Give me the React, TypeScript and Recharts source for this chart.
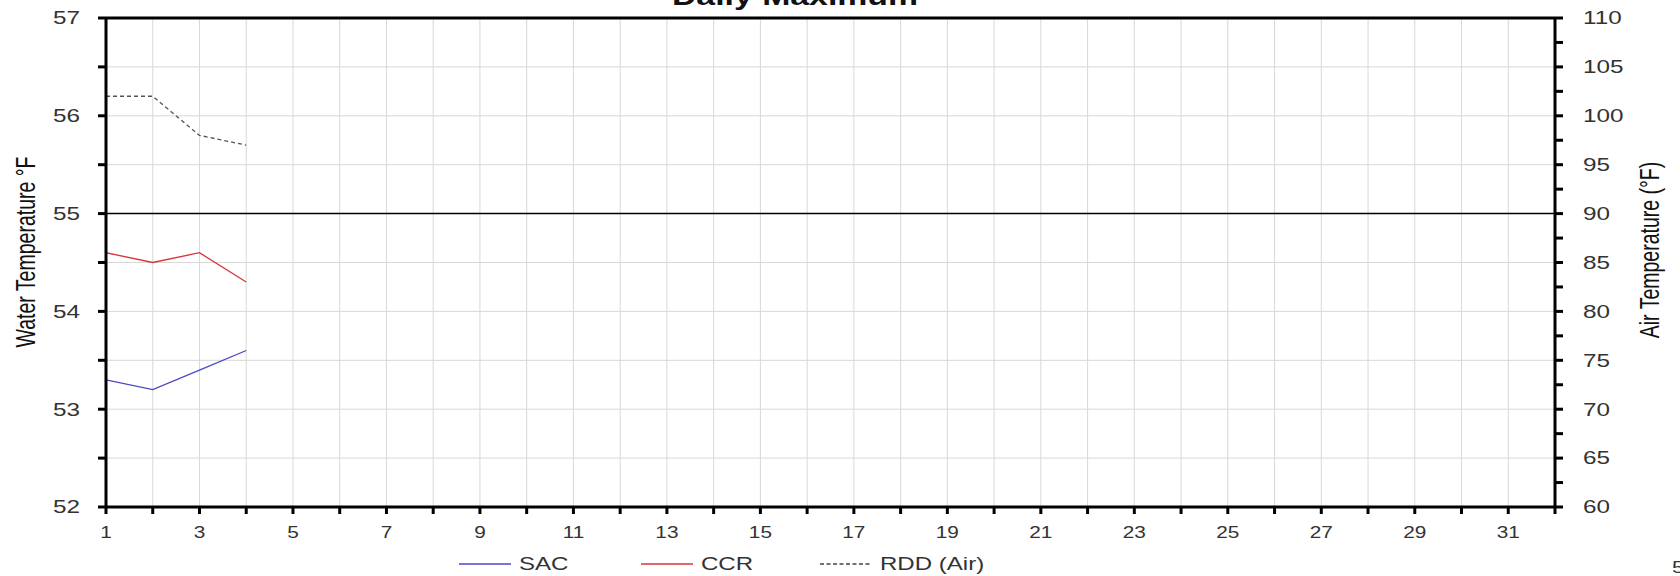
import React from "react"
import {
  LineChart,
  Line,
  XAxis,
  YAxis,
  CartesianGrid,
  ReferenceLine,
} from "recharts"

const days = [1, 2, 3, 4]
const sacWater = [53.3, 53.2, 53.4, 53.6]
const ccrWater = [54.6, 54.5, 54.6, 54.3]
const rddAir = [102, 102, 98, 97]

const dayTicks = [
  1, 2, 3, 4, 5, 6, 7, 8, 9, 10, 11, 12, 13, 14, 15, 16, 17, 18, 19, 20, 21,
  22, 23, 24, 25, 26, 27, 28, 29, 30, 31, 32,
]
const waterTicks = [52, 52.5, 53, 53.5, 54, 54.5, 55, 55.5, 56, 56.5, 57]
const airTicks = [
  60, 62.5, 65, 67.5, 70, 72.5, 75, 77.5, 80, 82.5, 85, 87.5, 90, 92.5, 95,
  97.5, 100, 102.5, 105, 107.5, 110,
]

const data = days.map((day, i) => ({
  day,
  sac: sacWater[i],
  ccr: ccrWater[i],
  rdd: rddAir[i],
}))

const font = "'Liberation Sans', Arial, sans-serif"
const heavy = { stroke: "#000", strokeWidth: 3 }
// the source image is stretched sideways, so text is widened to match
const stretch = 1.3

function DayTick({ x, y, payload }: any) {
  if (payload.value % 2 !== 1) return null
  return (
    <text
      transform={`translate(${x} ${y}) scale(${stretch} 1)`}
      textAnchor="middle"
      dy="0.71em"
      fontSize={16}
      fontFamily={font}
      fill="#333"
    >
      {payload.value}
    </text>
  )
}

function SideTick({ x, y, payload, anchor, show }: any) {
  if (!show(payload.value)) return null
  return (
    <text
      transform={`translate(${x} ${y}) scale(${stretch + 0.05} 1)`}
      textAnchor={anchor}
      dy="0.355em"
      fontSize={18}
      fontFamily={font}
      fill="#333"
    >
      {payload.value}
    </text>
  )
}

const legendItems = [
  { label: "SAC", color: "#4b46c8", dash: undefined, left: 459 },
  { label: "CCR", color: "#d8333c", dash: undefined, left: 641 },
  { label: "RDD (Air)", color: "#444", dash: "4 2.5", left: 820 },
]

export default function App() {
  return (
    <div
      style={{
        position: "absolute",
        left: 0,
        top: 0,
        width: 1680,
        height: 576,
        background: "#fff",
        overflow: "hidden",
        fontFamily: font,
      }}
    >
      <div
        style={{
          position: "absolute",
          top: -22,
          left: 795,
          transform: `translateX(-50%) scale(${stretch}, 1)`,
          whiteSpace: "nowrap",
          fontSize: 26,
          lineHeight: "36px",
          fontWeight: "bold",
          color: "#111",
        }}
      >
        Daily Maximum
      </div>

      <LineChart
        width={1680}
        height={576}
        data={data}
        margin={{ top: 18, right: 0, bottom: 0, left: 0 }}
      >
        <CartesianGrid stroke="#d8d8d8" strokeWidth={1} yAxisId="water" />
        <XAxis
          dataKey="day"
          type="number"
          domain={[1, 32]}
          ticks={dayTicks}
          interval={0}
          height={69}
          tickSize={7}
          tickMargin={13}
          axisLine={heavy}
          tickLine={heavy}
          tick={<DayTick />}
          allowDataOverflow
        />
        <YAxis
          yAxisId="water"
          orientation="left"
          width={106}
          domain={[52, 57]}
          ticks={waterTicks}
          interval={0}
          tickSize={8}
          tickMargin={18}
          axisLine={heavy}
          tickLine={heavy}
          tick={<SideTick anchor="end" show={(v: number) => Number.isInteger(v)} />}
          allowDataOverflow
        />
        <YAxis
          yAxisId="air"
          orientation="right"
          width={125}
          domain={[60, 110]}
          ticks={airTicks}
          interval={0}
          tickSize={8}
          tickMargin={20}
          axisLine={heavy}
          tickLine={heavy}
          tick={<SideTick anchor="start" show={(v: number) => v % 5 === 0} />}
          allowDataOverflow
        />
        <ReferenceLine yAxisId="water" y={57} stroke="#000" strokeWidth={3} />
        <ReferenceLine yAxisId="water" y={55} stroke="#000" strokeWidth={1.5} />
        <Line
          yAxisId="water"
          dataKey="sac"
          type="linear"
          stroke="#4b46c8"
          strokeWidth={1.3}
          dot={false}
          isAnimationActive={false}
        />
        <Line
          yAxisId="water"
          dataKey="ccr"
          type="linear"
          stroke="#d8333c"
          strokeWidth={1.3}
          dot={false}
          isAnimationActive={false}
        />
        <Line
          yAxisId="air"
          dataKey="rdd"
          type="linear"
          stroke="#555"
          strokeWidth={1.3}
          strokeDasharray="4 3"
          dot={false}
          isAnimationActive={false}
        />
      </LineChart>

      <div
        style={{
          position: "absolute",
          left: 26,
          top: 252,
          transform: "translate(-50%, -50%) rotate(-90deg) scale(1, 1.4)",
          whiteSpace: "nowrap",
          fontSize: 19.5,
          color: "#111",
        }}
      >
        Water Temperature °F
      </div>
      <div
        style={{
          position: "absolute",
          left: 1650,
          top: 250,
          transform: "translate(-50%, -50%) rotate(-90deg) scale(1, 1.4)",
          whiteSpace: "nowrap",
          fontSize: 19.5,
          color: "#111",
        }}
      >
        Air Temperature (°F)
      </div>

      {legendItems.map((item) => (
        <div
          key={item.label}
          style={{
            position: "absolute",
            left: item.left,
            top: 553,
            display: "flex",
            alignItems: "center",
            fontSize: 18.5,
            color: "#333",
            whiteSpace: "nowrap",
          }}
        >
          <svg width={52} height={10} style={{ marginRight: 8 }}>
            <line
              x1={0}
              y1={5}
              x2={52}
              y2={5}
              stroke={item.color}
              strokeWidth={1.3}
              strokeDasharray={item.dash}
            />
          </svg>
          <span style={{ display: "inline-block", transform: `scale(${stretch}, 1)`, transformOrigin: "left center" }}>
            {item.label}
          </span>
        </div>
      ))}
      <div
        style={{
          position: "absolute",
          left: 1672,
          top: 558,
          fontSize: 17,
          color: "#333",
          transform: `scale(${stretch}, 1)`,
          transformOrigin: "left center",
        }}
      >
        5
      </div>
    </div>
  )
}
